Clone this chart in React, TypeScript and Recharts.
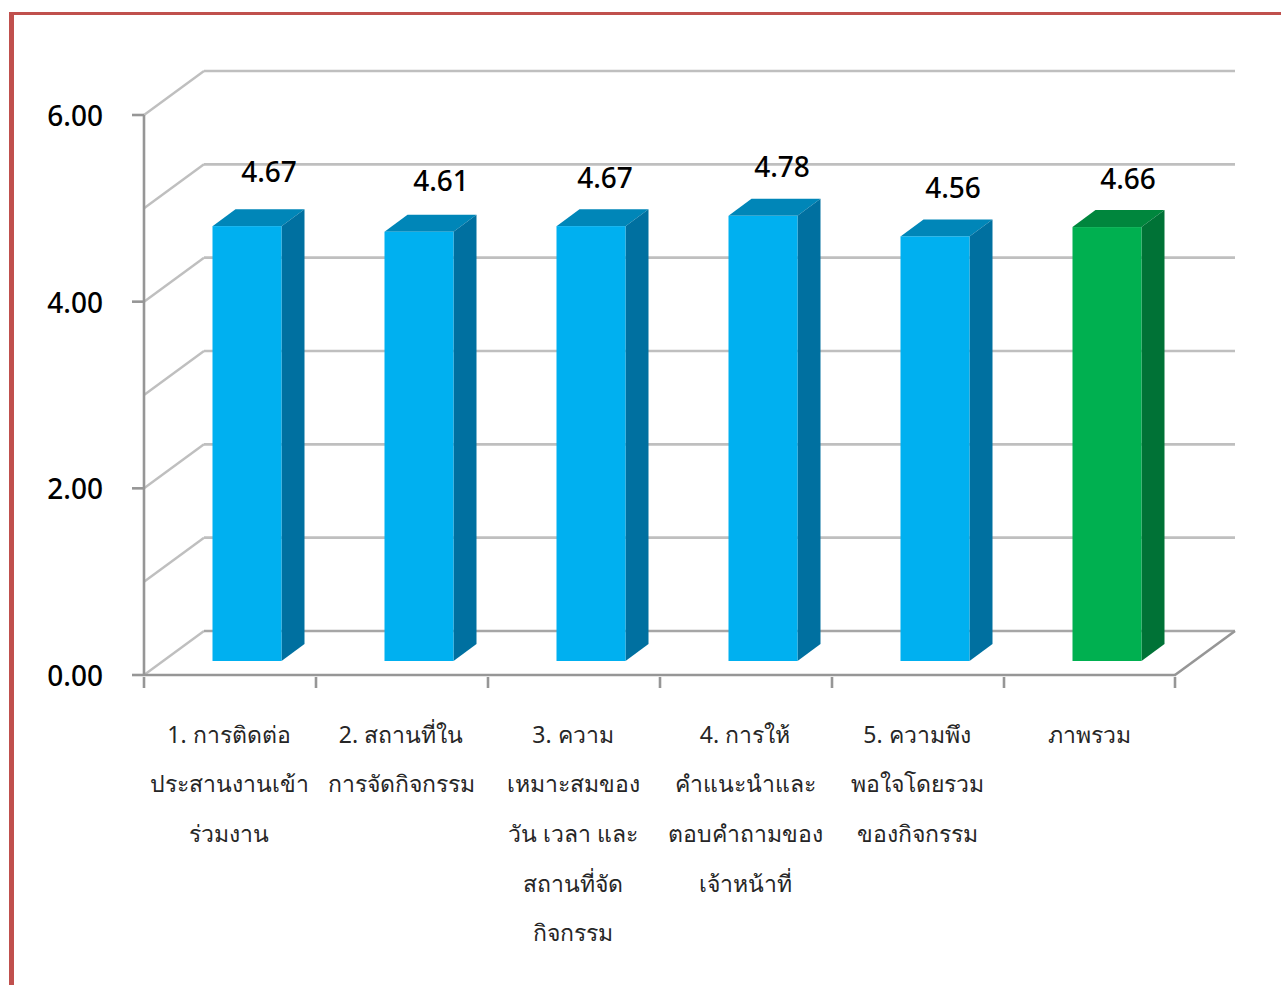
import { Bar, BarChart, CartesianGrid, LabelList, XAxis, YAxis } from "recharts";

const categories = [
  "1. การติดต่อ\nประสานงานเข้า\nร่วมงาน",
  "2. สถานที่ใน\nการจัดกิจกรรม",
  "3. ความ\nเหมาะสมของ\nวัน เวลา และ\nสถานที่จัด\nกิจกรรม",
  "4. การให้\nคำแนะนำและ\nตอบคำถามของ\nเจ้าหน้าที่",
  "5. ความพึง\nพอใจโดยรวม\nของกิจกรรม",
  "ภาพรวม"
];
const scores = [4.67, 4.61, 4.67, 4.78, 4.56, 4.66];
const yTicks = [0, 2, 4, 6];
const gridValues = [0, 1, 2, 3, 4, 5, 6];

// hand placed data labels, same as the source chart
const labelNudge = [
  [22, -54],
  [22, -51],
  [14, -48],
  [19, -49],
  [18, -48],
  [21, -48]
];

const blue = { front: "#00B0F0", side: "#0070A0", top: "#0086B8" };
const green = { front: "#00B050", side: "#007236", top: "#00863D" };

const FONT = "'Noto Sans', 'Open Sans', sans-serif";
const WIDTH = 1281;
const HEIGHT = 985;
const PLOT_LEFT = 144;
const PLOT_RIGHT = 1176;
const BAND = (PLOT_RIGHT - PLOT_LEFT) / categories.length;
const WALL_DX = 60;
const WALL_DY = -44;
const BAR_DX = 16.5;
const BAR_DY = -13;
const SIDE_DX = 23;
const SIDE_DY = -17;
const AXIS = "#969696";
const GRID = "#BFBFBF";

const data = categories.map((name, i) => ({ name, score: scores[i] }));

function Bar3D(props: any) {
  const { x, y, width, height, index } = props;
  const c = index === categories.length - 1 ? green : blue;
  const l = x + BAR_DX;
  const t = y + BAR_DY;
  const r = l + width;
  const b = t + height - 1;
  return (
    <g>
      <polygon
        points={`${l},${t} ${r},${t} ${r + SIDE_DX},${t + SIDE_DY} ${l + SIDE_DX},${t + SIDE_DY}`}
        fill={c.top}
      />
      <polygon
        points={`${r},${t} ${r + SIDE_DX},${t + SIDE_DY} ${r + SIDE_DX},${b + SIDE_DY} ${r},${b}`}
        fill={c.side}
      />
      <rect x={l} y={t} width={width} height={b - t} fill={c.front} />
    </g>
  );
}

function GridLine3D(props: any) {
  const { x1, x2, y1 } = props;
  const isFloor = y1 >= 674;
  return (
    <g>
      <line x1={x1} y1={y1} x2={x1 + WALL_DX} y2={y1 + WALL_DY} stroke={GRID} strokeWidth={2.4} />
      <line
        x1={x1 + WALL_DX}
        y1={y1 + WALL_DY}
        x2={x2 + WALL_DX - 1}
        y2={y1 + WALL_DY}
        stroke={isFloor ? "#A6A6A6" : GRID}
        strokeWidth={2.6}
      />
      {isFloor && (
        <line x1={x2 - 1} y1={y1} x2={x2 + WALL_DX - 1} y2={y1 + WALL_DY} stroke={AXIS} strokeWidth={2.6} />
      )}
    </g>
  );
}

function CategoryTick(props: any) {
  const { x, y, payload, index } = props;
  const lines = String(payload.value).split("\n");
  const axisY = y - 10;
  return (
    <g>
      <line x1={x - BAND / 2} y1={axisY} x2={x - BAND / 2} y2={axisY + 11} stroke={AXIS} strokeWidth={2.6} />
      {index === categories.length - 1 && (
        <line x1={x + BAND / 2 - 1} y1={axisY} x2={x + BAND / 2 - 1} y2={axisY + 11} stroke={AXIS} strokeWidth={2.6} />
      )}
      <text x={x - 1} y={y} textAnchor="middle" fontFamily={FONT} fontSize={23} fill="#262626">
        {lines.map((line, i) => (
          <tspan key={i} x={x - 1} y={y + 55.5 + i * 49.7}>
            {line}
          </tspan>
        ))}
      </text>
    </g>
  );
}

function ValueLabel(props: any) {
  const { x, y, width, index, value } = props;
  const [dx, dy] = labelNudge[index];
  return (
    <text
      x={x + BAR_DX + width / 2 + dx}
      y={y + BAR_DY + dy + 10}
      textAnchor="middle"
      fontFamily={FONT}
      fontSize={28}
      fontWeight={500}
      fill="#000"
    >
      {Number(value).toFixed(2)}
    </text>
  );
}

export default function App() {
  return (
    <div style={{ position: "absolute", left: 0, top: 0, width: WIDTH, height: HEIGHT, overflow: "hidden", background: "#fff" }}>
      <div
        style={{
          position: "absolute",
          left: 9,
          top: 12,
          width: 1300,
          height: 1000,
          borderLeft: "5px solid #C0504D",
          borderTop: "3px solid #C0504D"
        }}
      />
      <div style={{ position: "absolute", left: 0, top: 0 }}>
        <BarChart
          width={WIDTH}
          height={HEIGHT}
          data={data}
          barSize={69}
          margin={{ top: 115, right: WIDTH - PLOT_RIGHT, bottom: 50, left: 44 }}
        >
          <CartesianGrid
            horizontal={(p: any) => <GridLine3D key={p.key ?? p.y1} {...p} />}
            vertical={false}
            horizontalValues={gridValues}
          />
          <XAxis
            dataKey="name"
            height={260}
            interval={0}
            tick={CategoryTick}
            tickLine={false}
            tickSize={10}
            axisLine={{ stroke: AXIS, strokeWidth: 2.6 }}
          />
          <YAxis
            width={100}
            domain={[0, 6]}
            ticks={yTicks}
            tickFormatter={(v) => Number(v).toFixed(2)}
            tickSize={12}
            tickMargin={29}
            tick={{ fill: "#000", fontSize: 28, fontWeight: 500, fontFamily: FONT, dy: 1 }}
            axisLine={{ stroke: AXIS, strokeWidth: 2.6 }}
            tickLine={{ stroke: AXIS, strokeWidth: 2.6 }}
          />
          <Bar dataKey="score" shape={Bar3D} isAnimationActive={false}>
            <LabelList dataKey="score" content={ValueLabel} />
          </Bar>
        </BarChart>
      </div>
    </div>
  );
}
